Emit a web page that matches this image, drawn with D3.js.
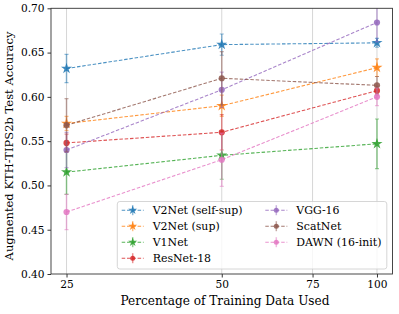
<!DOCTYPE html>
<html>
  <head>
    <meta charset="utf-8">
    <script src="https://d3js.org/d3.v7.min.js"></script>
    <title>KTH-TIPS2b accuracy vs training data</title>
    <style>
      body { margin: 0px; background: #fff; }
    </style>
  </head>
  <body>
    <svg width="399" height="314"></svg>
    <script>
      // data
      const xPercents = [25, 50, 75, 100];
      const dataPercents = [25, 50, 100];
      const yTicks = [0.40, 0.45, 0.50, 0.55, 0.60, 0.65, 0.70];

      const seriesNames = ['V2Net (self-sup)', 'V2Net (sup)', 'V1Net', 'ResNet-18',
                           'VGG-16', 'ScatNet', 'DAWN (16-init)'];
      const seriesColors = ['#1f77b4', '#ff7f0e', '#2ca02c', '#d62728',
                            '#9467bd', '#8c564b', '#e377c2'];
      const seriesMarkers = ['star', 'star', 'star', 'circle', 'circle', 'circle', 'circle'];

      const v2netSelf = [0.632, 0.659, 0.661];
      const v2netSelfErr = [0.016, 0.012, 0.005];
      const v2netSup = [0.570, 0.590, 0.633];
      const v2netSupErr = [0.008, 0.012, 0.010];
      const v1net = [0.515, 0.534, 0.547];
      const v1netErr = [0.025, 0.027, 0.028];
      const resnet = [0.548, 0.560, 0.607];
      const resnetErr = [0.010, 0.020, 0.005];
      const vgg = [0.540, 0.608, 0.684];
      const vggErr = [0.020, 0.020, 0.022];
      const scatnet = [0.568, 0.621, 0.613];
      const scatnetErr = [0.030, 0.030, 0.010];
      const dawn = [0.470, 0.529, 0.600];
      const dawnErr = [0.020, 0.030, 0.010];

      const allMeans = [v2netSelf, v2netSup, v1net, resnet, vgg, scatnet, dawn];
      const allErrs = [v2netSelfErr, v2netSupErr, v1netErr, resnetErr, vggErr, scatnetErr, dawnErr];

      const FONT = '"DejaVu Serif", serif';

      // shrink/grow a text so it spans the given width
      function fitText(sel, base, target) {
        sel.style('font-size', base + 'px');
        const w = sel.node().getComputedTextLength();
        sel.style('font-size', (base * target / w).toFixed(2) + 'px');
        return base * target / w;
      }

      const svg = d3.select('svg');
      const width = +svg.attr('width');
      const height = +svg.attr('height');
      const margin = { left: 51, right: 6.5, top: 8.3, bottom: 40 };
      const innerWidth = width - margin.left - margin.right;
      const innerHeight = height - margin.top - margin.bottom;

      const g = svg.append('g')
          .attr('transform', `translate(${margin.left}, ${margin.top})`);

      // log x axis with 5% padding (in log space) like matplotlib
      const pad = Math.pow(4, 0.05);
      const xScale = d3.scaleLog()
        .domain([25 / pad, 100 * pad])
        .range([0, innerWidth]);
      const yScale = d3.scaleLinear()
        .domain([0.40, 0.70])
        .range([innerHeight, 0]);

      svg.append('clipPath').attr('id', 'plotclip')
        .append('rect')
          .attr('width', innerWidth)
          .attr('height', innerHeight);

      // vertical grid lines
      g.append('g').selectAll('line').data(xPercents)
        .enter().append('line')
          .attr('x1', d => xScale(d)).attr('x2', d => xScale(d))
          .attr('y1', 0).attr('y2', innerHeight)
          .attr('stroke', '#b0b0b0')
          .attr('stroke-opacity', 0.5)
          .attr('stroke-width', 1);

      const plot = g.append('g').attr('clip-path', 'url(#plotclip)');

      const starSym = d3.symbol().type(d3.symbolStar).size(38);
      const circSym = d3.symbol().type(d3.symbolCircle).size(30);
      const starSymSmall = d3.symbol().type(d3.symbolStar).size(26);
      const circSymSmall = d3.symbol().type(d3.symbolCircle).size(20);

      const line = d3.line()
        .x(d => xScale(d.x))
        .y(d => yScale(d.y));

      seriesNames.forEach((name, i) => {
        const color = seriesColors[i];
        const pts = dataPercents.map((p, j) => ({ x: p, y: allMeans[i][j], e: allErrs[i][j] }));
        const sg = plot.append('g');

        // error bars
        sg.selectAll('.bar').data(pts)
          .enter().append('line')
            .attr('x1', d => xScale(d.x)).attr('x2', d => xScale(d.x))
            .attr('y1', d => yScale(d.y - d.e)).attr('y2', d => yScale(d.y + d.e))
            .attr('stroke', color).attr('stroke-opacity', 0.5).attr('stroke-width', 1.5);
        [-1, 1].forEach(s => {
          sg.selectAll('.cap' + s).data(pts)
            .enter().append('line')
              .attr('x1', d => xScale(d.x) - 2).attr('x2', d => xScale(d.x) + 2)
              .attr('y1', d => yScale(d.y + s * d.e)).attr('y2', d => yScale(d.y + s * d.e))
              .attr('stroke', color).attr('stroke-opacity', 0.5).attr('stroke-width', 1.2);
        });

        // dashed line
        sg.append('path')
          .datum(pts)
          .attr('d', line)
          .attr('fill', 'none')
          .attr('stroke', color)
          .attr('stroke-opacity', 0.8)
          .attr('stroke-width', 1.1)
          .attr('stroke-dasharray', '3.5,1.8');

        // markers
        sg.selectAll('.mk').data(pts)
          .enter().append('path')
            .attr('transform', d => `translate(${xScale(d.x)}, ${yScale(d.y)})`)
            .attr('d', seriesMarkers[i] === 'star' ? starSym : circSym)
            .attr('fill', color)
            .attr('fill-opacity', 0.85);
      });

      // axes
      const xAxis = d3.axisBottom(xScale)
        .tickValues(xPercents)
        .tickFormat(d3.format('d'))
        .tickSize(3.5)
        .tickPadding(3);
      const xAxisG = g.append('g')
          .attr('transform', `translate(0, ${innerHeight})`)
          .call(xAxis);
      const yAxis = d3.axisLeft(yScale)
        .tickValues(yTicks)
        .tickFormat(d3.format('.2f'))
        .tickSize(3.5)
        .tickPadding(3);
      const yAxisG = g.append('g').call(yAxis);
      [xAxisG, yAxisG].forEach(a => {
        a.attr('font-family', null).attr('font-size', null);
        a.select('.domain').remove();
        a.selectAll('.tick line').attr('stroke', '#000').attr('stroke-width', 0.8);
        a.selectAll('.tick text')
          .attr('fill', '#000')
          .style('font-family', FONT)
          .style('font-size', '10.6px');
      });

      // frame
      g.append('rect')
        .attr('width', innerWidth)
        .attr('height', innerHeight)
        .attr('fill', 'none')
        .attr('stroke', '#333')
        .attr('stroke-width', 0.9);

      const xLabel = svg.append('text')
        .attr('x', 225)
        .attr('y', 305)
        .attr('text-anchor', 'middle')
        .attr('fill', '#000')
        .style('font-family', FONT)
        .text('Percentage of Training Data Used');
      fitText(xLabel, 11.5, 209);
      const yLabel = svg.append('text')
        .attr('transform', 'translate(12.5, 146) rotate(-90)')
        .attr('text-anchor', 'middle')
        .attr('fill', '#000')
        .style('font-family', FONT)
        .text('Augmented KTH-TIPS2b Test Accuracy');
      fitText(yLabel, 11.5, 229);

      // legend
      const legend = svg.append('g')
          .attr('transform', 'translate(117.3, 201.5)');
      legend.append('rect')
        .attr('width', 269.5).attr('height', 67.5)
        .attr('rx', 2.5)
        .attr('fill', '#fff').attr('fill-opacity', 0.8)
        .attr('stroke', '#ccc').attr('stroke-width', 0.8);
      let legendSize = null;
      seriesNames.forEach((name, i) => {
        const col = i < 4 ? 0 : 1;
        const row = i < 4 ? i : i - 4;
        const lx = col === 0 ? 4.4 : 148;
        const ly = 8.7 + row * 16;
        const color = seriesColors[i];
        const item = legend.append('g').attr('transform', `translate(${lx}, ${ly})`);
        item.append('line')
          .attr('x1', 0).attr('x2', 22).attr('y1', 0).attr('y2', 0)
          .attr('stroke', color).attr('stroke-opacity', 0.8)
          .attr('stroke-width', 1.1).attr('stroke-dasharray', '3.5,1.8');
        item.append('line')
          .attr('x1', 11).attr('x2', 11).attr('y1', -5).attr('y2', 5)
          .attr('stroke', color).attr('stroke-opacity', 0.5).attr('stroke-width', 1.5);
        item.append('path')
          .attr('transform', 'translate(11, 0)')
          .attr('d', seriesMarkers[i] === 'star' ? starSymSmall : circSymSmall)
          .attr('fill', color).attr('fill-opacity', 0.85);
        const t = item.append('text')
          .attr('x', 31)
          .attr('y', 3.9)
          .attr('fill', '#000')
          .style('font-family', FONT)
          .text(name);
        // size every entry like the first one, which spans 90px in the figure
        if (legendSize === null) legendSize = fitText(t, 10.5, 90);
        else t.style('font-size', legendSize.toFixed(2) + 'px');
      });
    </script>
  </body>
</html>
